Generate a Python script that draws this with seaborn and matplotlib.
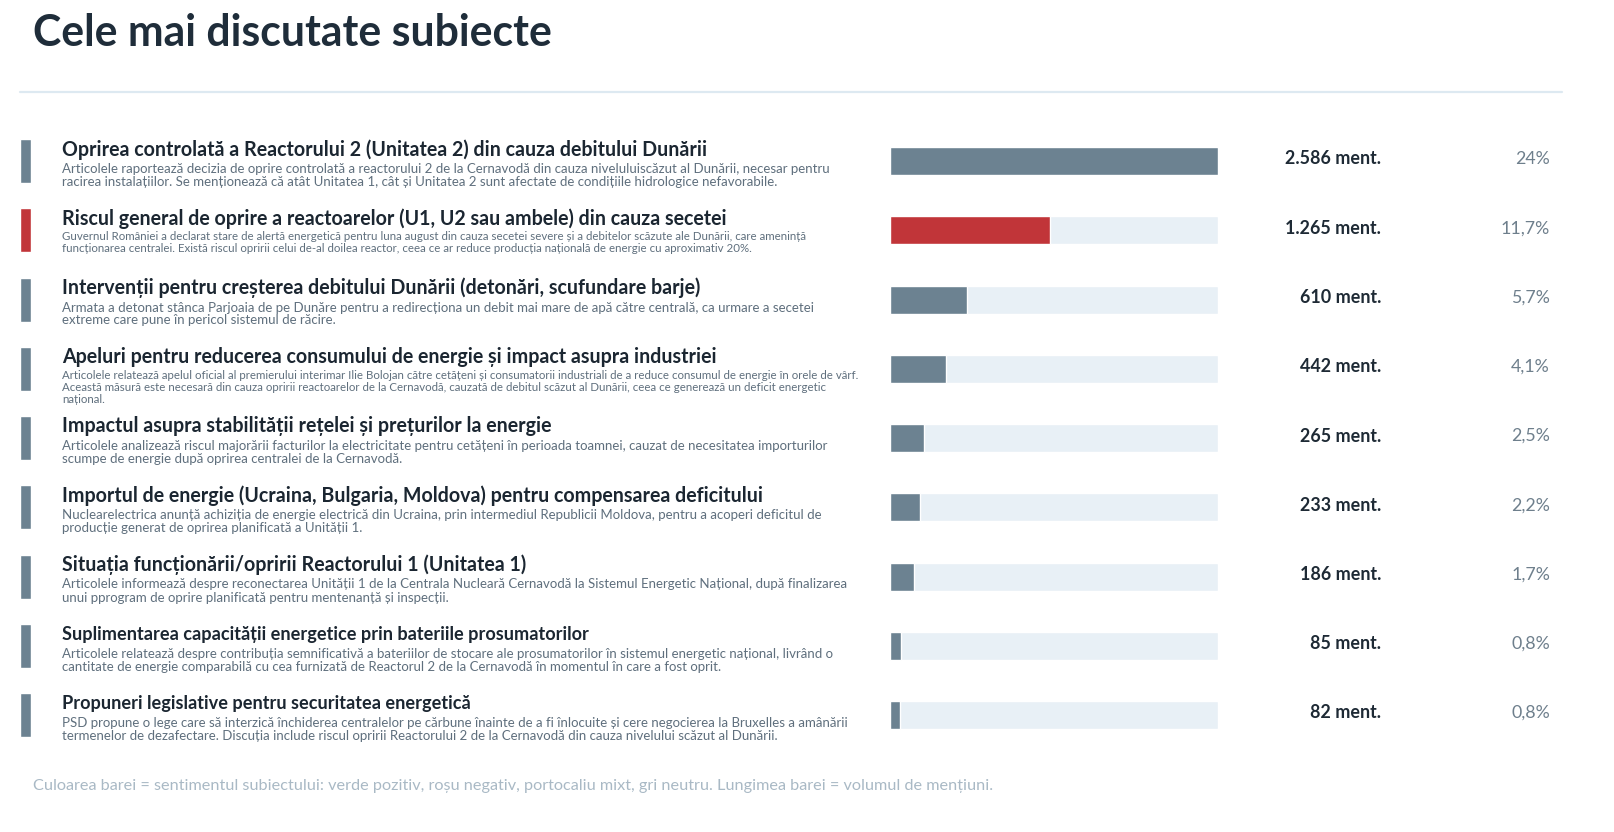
import matplotlib
matplotlib.use("Agg")
import matplotlib.pyplot as plt
import seaborn as sns
import pandas as pd

sns.set_theme(style="white")
FONT = ['Lato', 'DejaVu Sans']
plt.rcParams['font.family'] = FONT

# ---------------- data ----------------
topics = [
    "Oprirea controlată a Reactorului 2 (Unitatea 2) din cauza debitului Dunării",
    "Riscul general de oprire a reactoarelor (U1, U2 sau ambele) din cauza secetei",
    "Intervenții pentru creșterea debitului Dunării (detonări, scufundare barje)",
    "Apeluri pentru reducerea consumului de energie și impact asupra industriei",
    "Impactul asupra stabilității rețelei și prețurilor la energie",
    "Importul de energie (Ucraina, Bulgaria, Moldova) pentru compensarea deficitului",
    "Situația funcționării/opririi Reactorului 1 (Unitatea 1)",
    "Suplimentarea capacității energetice prin bateriile prosumatorilor",
    "Propuneri legislative pentru securitatea energetică",
]
descriptions = [
    "Articolele raportează decizia de oprire controlată a reactorului 2 de la Cernavodă din cauza niveluluiscăzut al Dunării, necesar pentru\n"
    "racirea instalațiilor. Se menționează că atât Unitatea 1, cât și Unitatea 2 sunt afectate de condițiile hidrologice nefavorabile.",
    "Guvernul României a declarat stare de alertă energetică pentru luna august din cauza secetei severe și a debitelor scăzute ale Dunării, care amenință\n"
    "funcționarea centralei. Există riscul opririi celui de-al doilea reactor, ceea ce ar reduce producția națională de energie cu aproximativ 20%.",
    "Armata a detonat stânca Parjoaia de pe Dunăre pentru a redirecționa un debit mai mare de apă către centrală, ca urmare a secetei\n"
    "extreme care pune în pericol sistemul de răcire.",
    "Articolele relatează apelul oficial al premierului interimar Ilie Bolojan către cetățeni și consumatorii industriali de a reduce consumul de energie în orele de vârf.\n"
    "Această măsură este necesară din cauza opririi reactoarelor de la Cernavodă, cauzată de debitul scăzut al Dunării, ceea ce generează un deficit energetic\n"
    "național.",
    "Articolele analizează riscul majorării facturilor la electricitate pentru cetățeni în perioada toamnei, cauzat de necesitatea importurilor\n"
    "scumpe de energie după oprirea centralei de la Cernavodă.",
    "Nuclearelectrica anunță achiziția de energie electrică din Ucraina, prin intermediul Republicii Moldova, pentru a acoperi deficitul de\n"
    "producție generat de oprirea planificată a Unității 1.",
    "Articolele informează despre reconectarea Unității 1 de la Centrala Nucleară Cernavodă la Sistemul Energetic Național, după finalizarea\n"
    "unui pprogram de oprire planificată pentru mentenanță și inspecții.",
    "Articolele relatează despre contribuția semnificativă a bateriilor de stocare ale prosumatorilor în sistemul energetic național, livrând o\n"
    "cantitate de energie comparabilă cu cea furnizată de Reactorul 2 de la Cernavodă în momentul în care a fost oprit.",
    "PSD propune o lege care să interzică închiderea centralelor pe cărbune înainte de a fi înlocuite și cere negocierea la Bruxelles a amânării\n"
    "termenelor de dezafectare. Discuția include riscul opririi Reactorului 2 de la Cernavodă din cauza nivelului scăzut al Dunării.",
]
mentions = [2586, 1265, 610, 442, 265, 233, 186, 85, 82]
percents = ["24%", "11,7%", "5,7%", "4,1%", "2,5%", "2,2%", "1,7%", "0,8%", "0,8%"]
sentiments = ["neutru", "negativ", "neutru", "neutru", "neutru", "neutru", "neutru", "neutru", "neutru"]

title = "Cele mai discutate subiecte"
footer = ("Culoarea barei = sentimentul subiectului: verde pozitiv, roșu negativ, "
          "portocaliu mixt, gri neutru. Lungimea barei = volumul de mențiuni.")

# ---------------- styles ----------------
palette = {"neutru": "#6c8291", "negativ": "#c13539", "pozitiv": "#4a9a5b", "mixt": "#e39a3b"}
track_color = "#e8f0f6"
W, H = 1615, 832
px = 72 / 100  # px -> pt

df = pd.DataFrame({"topic": topics, "mentions": mentions, "sentiment": sentiments})
df["track"] = max(mentions)
df["one"] = 1

fig = plt.figure(figsize=(W / 100, H / 100), dpi=100)
fig.patch.set_facecolor("white")

# layout (pixels)
row0, pitch = 161.0, 69.25
n = len(topics)
top_px = row0 - pitch / 2
bot_px = top_px + pitch * n

# overlay axes for text
ax0 = fig.add_axes([0, 0, 1, 1])
ax0.set_xlim(0, W)
ax0.set_ylim(H, 0)
ax0.axis("off")

ax0.text(33, 33, title, fontsize=42.7 * px, fontweight="bold", color="#1f2d3a",
         va="center", ha="left", family=FONT)
ax0.plot([20, 1562], [92, 92], color="#dde9f1", lw=1.6)

small_desc = {1, 3}
small_title = {7, 8}
for i in range(n):
    c = row0 + i * pitch
    tsize = 18.1 if i in small_title else 19.7
    ax0.text(62, c - 11.5, topics[i], fontsize=tsize * px, fontweight="bold",
             color="#1b2631", va="center", ha="left")
    dsize = 11.45 if i in small_desc else 13.2
    start = c + 6.5 if i in small_desc else c + 8
    step = 12 if i in small_desc else 13
    for k, line in enumerate(descriptions[i].split("\n")):
        ax0.text(62, start + k * step, line, fontsize=dsize * px, color="#5f6f7d",
                 va="center", ha="left")
    label = f"{mentions[i]:,}".replace(",", ".") + " ment."
    ax0.text(1381, c - 2, label, fontsize=17.9 * px, fontweight="bold", color="#1e2a35",
             va="center", ha="right")
    ax0.text(1550, c - 2, percents[i], fontsize=17.8 * px, color="#6e7f8c",
             va="center", ha="right")

ax0.text(33, 786, footer, fontsize=16.2 * px, color="#a9b9c5", va="center", ha="left")

# bar axes
def vert_axes(x0, w):
    return fig.add_axes([x0 / W, 1 - bot_px / H, w / W, (bot_px - top_px) / H])

axb = vert_axes(890, 328)
sns.barplot(data=df, x="track", y="topic", color=track_color, width=28 / pitch,
            ax=axb, saturation=1, orient="h")
sns.barplot(data=df, x="mentions", y="topic", hue="sentiment", palette=palette,
            width=28 / pitch, ax=axb, saturation=1, orient="h", legend=False, dodge=False)
axb.set_xlim(0, max(mentions))
axb.set_ylim(n - 0.5, -0.5)
axb.axis("off")

# sentiment indicator strips
axi = vert_axes(20, 11.5)
sns.barplot(data=df, x="one", y="topic", hue="sentiment", palette=palette,
            width=44 / pitch, ax=axi, saturation=1, orient="h", legend=False, dodge=False)
axi.set_xlim(0, 1)
axi.set_ylim(n - 0.5, -0.5)
axi.axis("off")

fig.savefig("out.png", dpi=100, facecolor="white")
